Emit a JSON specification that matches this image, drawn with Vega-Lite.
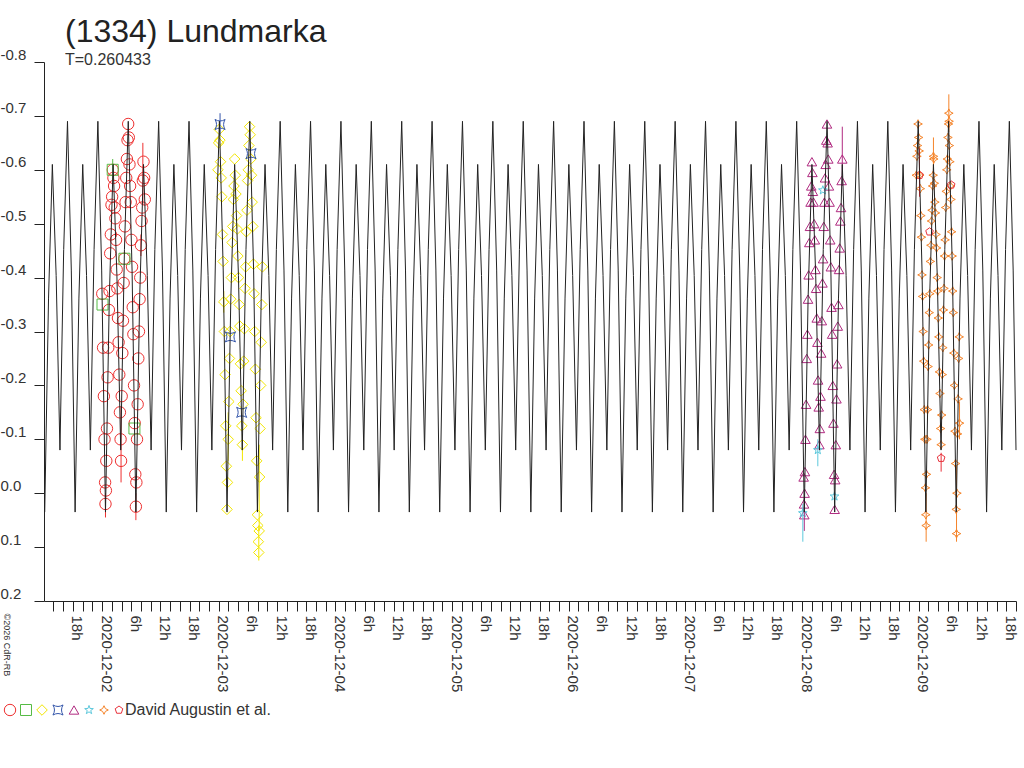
{
"$schema":"https://vega.github.io/schema/vega-lite/v6.json",
"width":972,"height":539,
"autosize":{"type":"none"},
"padding":{"left":44,"top":62,"right":8,"bottom":167},
"title":{"text":"(1334) Lundmarka","subtitle":"T=0.260433","anchor":"start","frame":"group","dx":21,"offset":-22,"fontSize":32,"font":"Liberation Sans","fontWeight":"normal","color":"#222","subtitleFont":"Liberation Sans","subtitleFontSize":16,"subtitleColor":"#333","subtitlePadding":3},
"config":{"view":{"stroke":null},"font":"Liberation Sans",
"legend":{"orient":"none","legendX":-42,"legendY":640,"direction":"horizontal","columns":8,"symbolSize":100,"symbolStrokeWidth":1,"labelFontSize":16,"labelFont":"Liberation Sans","labelColor":"#333","labelOffset":-2,"columnPadding":0,"padding":0}},
"datasets":{
"fit":[
{"t":"2020-12-01T12:12","m":0.035},{"t":"2020-12-01T12:59","m":-0.362},{"t":"2020-12-01T13:46","m":-0.61},{"t":"2020-12-01T14:33","m":-0.404},{"t":"2020-12-01T15:20","m":-0.08},{"t":"2020-12-01T16:06","m":-0.452},{"t":"2020-12-01T16:53","m":-0.69},{"t":"2020-12-01T17:40","m":-0.414},
{"t":"2020-12-01T18:27","m":0.035},{"t":"2020-12-01T19:14","m":-0.362},{"t":"2020-12-01T20:01","m":-0.61},{"t":"2020-12-01T20:48","m":-0.404},{"t":"2020-12-01T21:35","m":-0.08},{"t":"2020-12-01T22:21","m":-0.452},{"t":"2020-12-01T23:08","m":-0.69},{"t":"2020-12-01T23:55","m":-0.414},
{"t":"2020-12-02T00:42","m":0.035},{"t":"2020-12-02T01:29","m":-0.362},{"t":"2020-12-02T02:16","m":-0.61},{"t":"2020-12-02T03:03","m":-0.404},{"t":"2020-12-02T03:50","m":-0.08},{"t":"2020-12-02T04:36","m":-0.452},{"t":"2020-12-02T05:23","m":-0.69},{"t":"2020-12-02T06:10","m":-0.414},
{"t":"2020-12-02T06:57","m":0.035},{"t":"2020-12-02T07:44","m":-0.362},{"t":"2020-12-02T08:31","m":-0.61},{"t":"2020-12-02T09:18","m":-0.404},{"t":"2020-12-02T10:05","m":-0.08},{"t":"2020-12-02T10:51","m":-0.452},{"t":"2020-12-02T11:38","m":-0.69},{"t":"2020-12-02T12:25","m":-0.414},
{"t":"2020-12-02T13:12","m":0.035},{"t":"2020-12-02T13:59","m":-0.362},{"t":"2020-12-02T14:46","m":-0.61},{"t":"2020-12-02T15:33","m":-0.404},{"t":"2020-12-02T16:20","m":-0.08},{"t":"2020-12-02T17:06","m":-0.452},{"t":"2020-12-02T17:53","m":-0.69},{"t":"2020-12-02T18:40","m":-0.414},
{"t":"2020-12-02T19:27","m":0.035},{"t":"2020-12-02T20:14","m":-0.362},{"t":"2020-12-02T21:01","m":-0.61},{"t":"2020-12-02T21:48","m":-0.404},{"t":"2020-12-02T22:35","m":-0.08},{"t":"2020-12-02T23:21","m":-0.452},{"t":"2020-12-03T00:08","m":-0.69},{"t":"2020-12-03T00:55","m":-0.414},
{"t":"2020-12-03T01:42","m":0.035},{"t":"2020-12-03T02:29","m":-0.362},{"t":"2020-12-03T03:16","m":-0.61},{"t":"2020-12-03T04:03","m":-0.404},{"t":"2020-12-03T04:50","m":-0.08},{"t":"2020-12-03T05:36","m":-0.452},{"t":"2020-12-03T06:23","m":-0.69},{"t":"2020-12-03T07:10","m":-0.414},
{"t":"2020-12-03T07:57","m":0.035},{"t":"2020-12-03T08:44","m":-0.362},{"t":"2020-12-03T09:31","m":-0.61},{"t":"2020-12-03T10:18","m":-0.404},{"t":"2020-12-03T11:05","m":-0.08},{"t":"2020-12-03T11:51","m":-0.452},{"t":"2020-12-03T12:38","m":-0.69},{"t":"2020-12-03T13:25","m":-0.414},
{"t":"2020-12-03T14:12","m":0.035},{"t":"2020-12-03T14:59","m":-0.362},{"t":"2020-12-03T15:46","m":-0.61},{"t":"2020-12-03T16:33","m":-0.404},{"t":"2020-12-03T17:20","m":-0.08},{"t":"2020-12-03T18:06","m":-0.452},{"t":"2020-12-03T18:53","m":-0.69},{"t":"2020-12-03T19:40","m":-0.414},
{"t":"2020-12-03T20:27","m":0.035},{"t":"2020-12-03T21:14","m":-0.362},{"t":"2020-12-03T22:01","m":-0.61},{"t":"2020-12-03T22:48","m":-0.404},{"t":"2020-12-03T23:35","m":-0.08},{"t":"2020-12-04T00:21","m":-0.452},{"t":"2020-12-04T01:08","m":-0.69},{"t":"2020-12-04T01:55","m":-0.414},
{"t":"2020-12-04T02:42","m":0.035},{"t":"2020-12-04T03:29","m":-0.362},{"t":"2020-12-04T04:16","m":-0.61},{"t":"2020-12-04T05:03","m":-0.404},{"t":"2020-12-04T05:50","m":-0.08},{"t":"2020-12-04T06:36","m":-0.452},{"t":"2020-12-04T07:23","m":-0.69},{"t":"2020-12-04T08:10","m":-0.414},
{"t":"2020-12-04T08:57","m":0.035},{"t":"2020-12-04T09:44","m":-0.362},{"t":"2020-12-04T10:31","m":-0.61},{"t":"2020-12-04T11:18","m":-0.404},{"t":"2020-12-04T12:05","m":-0.08},{"t":"2020-12-04T12:51","m":-0.452},{"t":"2020-12-04T13:38","m":-0.69},{"t":"2020-12-04T14:25","m":-0.414},
{"t":"2020-12-04T15:12","m":0.035},{"t":"2020-12-04T15:59","m":-0.362},{"t":"2020-12-04T16:46","m":-0.61},{"t":"2020-12-04T17:33","m":-0.404},{"t":"2020-12-04T18:20","m":-0.08},{"t":"2020-12-04T19:06","m":-0.452},{"t":"2020-12-04T19:53","m":-0.69},{"t":"2020-12-04T20:40","m":-0.414},
{"t":"2020-12-04T21:27","m":0.035},{"t":"2020-12-04T22:14","m":-0.362},{"t":"2020-12-04T23:01","m":-0.61},{"t":"2020-12-04T23:48","m":-0.404},{"t":"2020-12-05T00:35","m":-0.08},{"t":"2020-12-05T01:21","m":-0.452},{"t":"2020-12-05T02:08","m":-0.69},{"t":"2020-12-05T02:55","m":-0.414},
{"t":"2020-12-05T03:42","m":0.035},{"t":"2020-12-05T04:29","m":-0.362},{"t":"2020-12-05T05:16","m":-0.61},{"t":"2020-12-05T06:03","m":-0.404},{"t":"2020-12-05T06:50","m":-0.08},{"t":"2020-12-05T07:36","m":-0.452},{"t":"2020-12-05T08:23","m":-0.69},{"t":"2020-12-05T09:10","m":-0.414},
{"t":"2020-12-05T09:57","m":0.035},{"t":"2020-12-05T10:44","m":-0.362},{"t":"2020-12-05T11:31","m":-0.61},{"t":"2020-12-05T12:18","m":-0.404},{"t":"2020-12-05T13:05","m":-0.08},{"t":"2020-12-05T13:51","m":-0.452},{"t":"2020-12-05T14:38","m":-0.69},{"t":"2020-12-05T15:25","m":-0.414},
{"t":"2020-12-05T16:12","m":0.035},{"t":"2020-12-05T16:59","m":-0.362},{"t":"2020-12-05T17:46","m":-0.61},{"t":"2020-12-05T18:33","m":-0.404},{"t":"2020-12-05T19:20","m":-0.08},{"t":"2020-12-05T20:06","m":-0.452},{"t":"2020-12-05T20:53","m":-0.69},{"t":"2020-12-05T21:40","m":-0.414},
{"t":"2020-12-05T22:27","m":0.035},{"t":"2020-12-05T23:14","m":-0.362},{"t":"2020-12-06T00:01","m":-0.61},{"t":"2020-12-06T00:48","m":-0.404},{"t":"2020-12-06T01:35","m":-0.08},{"t":"2020-12-06T02:21","m":-0.452},{"t":"2020-12-06T03:08","m":-0.69},{"t":"2020-12-06T03:55","m":-0.414},
{"t":"2020-12-06T04:42","m":0.035},{"t":"2020-12-06T05:29","m":-0.362},{"t":"2020-12-06T06:16","m":-0.61},{"t":"2020-12-06T07:03","m":-0.404},{"t":"2020-12-06T07:50","m":-0.08},{"t":"2020-12-06T08:36","m":-0.452},{"t":"2020-12-06T09:23","m":-0.69},{"t":"2020-12-06T10:10","m":-0.414},
{"t":"2020-12-06T10:57","m":0.035},{"t":"2020-12-06T11:44","m":-0.362},{"t":"2020-12-06T12:31","m":-0.61},{"t":"2020-12-06T13:18","m":-0.404},{"t":"2020-12-06T14:05","m":-0.08},{"t":"2020-12-06T14:51","m":-0.452},{"t":"2020-12-06T15:38","m":-0.69},{"t":"2020-12-06T16:25","m":-0.414},
{"t":"2020-12-06T17:12","m":0.035},{"t":"2020-12-06T17:59","m":-0.362},{"t":"2020-12-06T18:46","m":-0.61},{"t":"2020-12-06T19:33","m":-0.404},{"t":"2020-12-06T20:20","m":-0.08},{"t":"2020-12-06T21:06","m":-0.452},{"t":"2020-12-06T21:53","m":-0.69},{"t":"2020-12-06T22:40","m":-0.414},
{"t":"2020-12-06T23:27","m":0.035},{"t":"2020-12-07T00:14","m":-0.362},{"t":"2020-12-07T01:01","m":-0.61},{"t":"2020-12-07T01:48","m":-0.404},{"t":"2020-12-07T02:35","m":-0.08},{"t":"2020-12-07T03:21","m":-0.452},{"t":"2020-12-07T04:08","m":-0.69},{"t":"2020-12-07T04:55","m":-0.414},
{"t":"2020-12-07T05:42","m":0.035},{"t":"2020-12-07T06:29","m":-0.362},{"t":"2020-12-07T07:16","m":-0.61},{"t":"2020-12-07T08:03","m":-0.404},{"t":"2020-12-07T08:50","m":-0.08},{"t":"2020-12-07T09:36","m":-0.452},{"t":"2020-12-07T10:23","m":-0.69},{"t":"2020-12-07T11:10","m":-0.414},
{"t":"2020-12-07T11:57","m":0.035},{"t":"2020-12-07T12:44","m":-0.362},{"t":"2020-12-07T13:31","m":-0.61},{"t":"2020-12-07T14:18","m":-0.404},{"t":"2020-12-07T15:05","m":-0.08},{"t":"2020-12-07T15:51","m":-0.452},{"t":"2020-12-07T16:38","m":-0.69},{"t":"2020-12-07T17:25","m":-0.414},
{"t":"2020-12-07T18:12","m":0.035},{"t":"2020-12-07T18:59","m":-0.362},{"t":"2020-12-07T19:46","m":-0.61},{"t":"2020-12-07T20:33","m":-0.404},{"t":"2020-12-07T21:20","m":-0.08},{"t":"2020-12-07T22:06","m":-0.452},{"t":"2020-12-07T22:53","m":-0.69},{"t":"2020-12-07T23:40","m":-0.414},
{"t":"2020-12-08T00:27","m":0.035},{"t":"2020-12-08T01:14","m":-0.362},{"t":"2020-12-08T02:01","m":-0.61},{"t":"2020-12-08T02:48","m":-0.404},{"t":"2020-12-08T03:35","m":-0.08},{"t":"2020-12-08T04:21","m":-0.452},{"t":"2020-12-08T05:08","m":-0.69},{"t":"2020-12-08T05:55","m":-0.414},
{"t":"2020-12-08T06:42","m":0.035},{"t":"2020-12-08T07:29","m":-0.362},{"t":"2020-12-08T08:16","m":-0.61},{"t":"2020-12-08T09:03","m":-0.404},{"t":"2020-12-08T09:50","m":-0.08},{"t":"2020-12-08T10:36","m":-0.452},{"t":"2020-12-08T11:23","m":-0.69},{"t":"2020-12-08T12:10","m":-0.414},
{"t":"2020-12-08T12:57","m":0.035},{"t":"2020-12-08T13:44","m":-0.362},{"t":"2020-12-08T14:31","m":-0.61},{"t":"2020-12-08T15:18","m":-0.404},{"t":"2020-12-08T16:05","m":-0.08},{"t":"2020-12-08T16:51","m":-0.452},{"t":"2020-12-08T17:38","m":-0.69},{"t":"2020-12-08T18:25","m":-0.414},
{"t":"2020-12-08T19:12","m":0.035},{"t":"2020-12-08T19:59","m":-0.362},{"t":"2020-12-08T20:46","m":-0.61},{"t":"2020-12-08T21:33","m":-0.404},{"t":"2020-12-08T22:20","m":-0.08},{"t":"2020-12-08T23:06","m":-0.452},{"t":"2020-12-08T23:53","m":-0.69},{"t":"2020-12-09T00:40","m":-0.414},
{"t":"2020-12-09T01:27","m":0.035},{"t":"2020-12-09T02:14","m":-0.362},{"t":"2020-12-09T03:01","m":-0.61},{"t":"2020-12-09T03:48","m":-0.404},{"t":"2020-12-09T04:35","m":-0.08},{"t":"2020-12-09T05:21","m":-0.452},{"t":"2020-12-09T06:08","m":-0.69},{"t":"2020-12-09T06:55","m":-0.414},
{"t":"2020-12-09T07:42","m":0.035},{"t":"2020-12-09T08:29","m":-0.362},{"t":"2020-12-09T09:16","m":-0.61},{"t":"2020-12-09T10:03","m":-0.404},{"t":"2020-12-09T10:50","m":-0.08},{"t":"2020-12-09T11:36","m":-0.452},{"t":"2020-12-09T12:23","m":-0.69},{"t":"2020-12-09T13:10","m":-0.414},
{"t":"2020-12-09T13:57","m":0.035},{"t":"2020-12-09T14:44","m":-0.362},{"t":"2020-12-09T15:31","m":-0.61},{"t":"2020-12-09T16:18","m":-0.404},{"t":"2020-12-09T17:05","m":-0.08},{"t":"2020-12-09T17:51","m":-0.452},{"t":"2020-12-09T18:38","m":-0.69},{"t":"2020-12-09T19:25","m":-0.414},
{"t":"2020-12-09T20:00","m":-0.08}
],
"obs":[
{"t":"2020-12-02T00:02","m":-0.37,"s":"A"},{"t":"2020-12-02T00:12","m":-0.27,"s":"A"},{"t":"2020-12-02T00:22","m":-0.18,"s":"A"},{"t":"2020-12-02T00:30","m":-0.1,"s":"A"},{"t":"2020-12-02T00:37","m":-0.02,"s":"A"},{"t":"2020-12-02T00:42","m":0.02,"s":"A"},{"t":"2020-12-02T00:47","m":-0.005,"s":"A"},{"t":"2020-12-02T00:52","m":-0.06,"s":"A"},{"t":"2020-12-02T01:00","m":-0.12,"s":"A"},{"t":"2020-12-02T01:08","m":-0.215,"s":"A"},{"t":"2020-12-02T01:16","m":-0.27,"s":"A"},{"t":"2020-12-02T01:24","m":-0.34,"s":"A"},{"t":"2020-12-02T01:32","m":-0.375,"s":"A"},{"t":"2020-12-02T01:40","m":-0.445,"s":"A"},{"t":"2020-12-02T01:48","m":-0.48,"s":"A"},{"t":"2020-12-02T01:56","m":-0.535,"s":"A"},{"t":"2020-12-02T02:04","m":-0.55,"s":"A"},{"t":"2020-12-02T02:12","m":-0.6,"s":"A"},{"t":"2020-12-02T02:20","m":-0.585,"s":"A"},{"t":"2020-12-02T02:28","m":-0.57,"s":"A"},{"t":"2020-12-02T02:36","m":-0.53,"s":"A"},{"t":"2020-12-02T02:44","m":-0.51,"s":"A"},{"t":"2020-12-02T02:52","m":-0.47,"s":"A"},{"t":"2020-12-02T03:00","m":-0.415,"s":"A"},{"t":"2020-12-02T03:08","m":-0.38,"s":"A"},{"t":"2020-12-02T03:16","m":-0.325,"s":"A"},{"t":"2020-12-02T03:24","m":-0.28,"s":"A"},{"t":"2020-12-02T03:32","m":-0.22,"s":"A"},{"t":"2020-12-02T03:40","m":-0.15,"s":"A"},{"t":"2020-12-02T03:48","m":-0.1,"s":"A"},{"t":"2020-12-02T03:54","m":-0.06,"s":"A"},{"t":"2020-12-02T04:02","m":-0.18,"s":"A"},{"t":"2020-12-02T04:10","m":-0.26,"s":"A"},{"t":"2020-12-02T04:18","m":-0.32,"s":"A"},{"t":"2020-12-02T04:26","m":-0.39,"s":"A"},{"t":"2020-12-02T04:34","m":-0.435,"s":"A"},{"t":"2020-12-02T04:42","m":-0.495,"s":"A"},{"t":"2020-12-02T04:50","m":-0.54,"s":"A"},{"t":"2020-12-02T04:58","m":-0.585,"s":"A"},{"t":"2020-12-02T05:06","m":-0.62,"s":"A"},{"t":"2020-12-02T05:14","m":-0.655,"s":"A"},{"t":"2020-12-02T05:22","m":-0.685,"s":"A"},{"t":"2020-12-02T05:30","m":-0.66,"s":"A"},{"t":"2020-12-02T05:38","m":-0.61,"s":"A"},{"t":"2020-12-02T05:46","m":-0.57,"s":"A"},{"t":"2020-12-02T05:54","m":-0.54,"s":"A"},{"t":"2020-12-02T06:02","m":-0.47,"s":"A"},{"t":"2020-12-02T06:10","m":-0.42,"s":"A"},{"t":"2020-12-02T06:18","m":-0.345,"s":"A"},{"t":"2020-12-02T06:26","m":-0.295,"s":"A"},{"t":"2020-12-02T06:34","m":-0.2,"s":"A"},{"t":"2020-12-02T06:42","m":-0.13,"s":"A"},{"t":"2020-12-02T06:50","m":-0.035,"s":"A"},{"t":"2020-12-02T06:57","m":0.025,"s":"A"},{"t":"2020-12-02T07:03","m":-0.02,"s":"A"},{"t":"2020-12-02T07:11","m":-0.1,"s":"A"},{"t":"2020-12-02T07:19","m":-0.165,"s":"A"},{"t":"2020-12-02T07:27","m":-0.25,"s":"A"},{"t":"2020-12-02T07:35","m":-0.3,"s":"A"},{"t":"2020-12-02T07:43","m":-0.36,"s":"A"},{"t":"2020-12-02T07:51","m":-0.4,"s":"A"},{"t":"2020-12-02T07:59","m":-0.46,"s":"A"},{"t":"2020-12-02T08:07","m":-0.505,"s":"A"},{"t":"2020-12-02T08:15","m":-0.53,"s":"A"},{"t":"2020-12-02T08:23","m":-0.58,"s":"A"},{"t":"2020-12-02T08:31","m":-0.615,"s":"A"},{"t":"2020-12-02T08:39","m":-0.585,"s":"A"},{"t":"2020-12-02T08:47","m":-0.545,"s":"A"},
{"t":"2020-12-02T00:05","m":-0.35,"s":"B"},{"t":"2020-12-02T02:11","m":-0.6,"s":"B"},{"t":"2020-12-02T04:36","m":-0.435,"s":"B"},{"t":"2020-12-02T06:39","m":-0.12,"s":"B"},
{"t":"2020-12-02T23:50","m":-0.6,"s":"C"},{"t":"2020-12-02T23:58","m":-0.65,"s":"C"},{"t":"2020-12-03T00:06","m":-0.675,"s":"C"},{"t":"2020-12-03T00:14","m":-0.655,"s":"C"},{"t":"2020-12-03T00:22","m":-0.615,"s":"C"},{"t":"2020-12-03T00:30","m":-0.585,"s":"C"},{"t":"2020-12-03T00:38","m":-0.55,"s":"C"},{"t":"2020-12-03T00:46","m":-0.48,"s":"C"},{"t":"2020-12-03T00:54","m":-0.43,"s":"C"},{"t":"2020-12-03T01:02","m":-0.355,"s":"C"},{"t":"2020-12-03T01:10","m":-0.3,"s":"C"},{"t":"2020-12-03T01:18","m":-0.22,"s":"C"},{"t":"2020-12-03T01:26","m":-0.125,"s":"C"},{"t":"2020-12-03T01:34","m":-0.05,"s":"C"},{"t":"2020-12-03T01:42","m":0.03,"s":"C"},{"t":"2020-12-03T01:48","m":-0.02,"s":"C"},{"t":"2020-12-03T01:56","m":-0.1,"s":"C"},{"t":"2020-12-03T02:04","m":-0.17,"s":"C"},{"t":"2020-12-03T02:12","m":-0.25,"s":"C"},{"t":"2020-12-03T02:20","m":-0.3,"s":"C"},{"t":"2020-12-03T02:28","m":-0.36,"s":"C"},{"t":"2020-12-03T02:36","m":-0.4,"s":"C"},{"t":"2020-12-03T02:44","m":-0.465,"s":"C"},{"t":"2020-12-03T02:52","m":-0.495,"s":"C"},{"t":"2020-12-03T03:00","m":-0.545,"s":"C"},{"t":"2020-12-03T03:08","m":-0.57,"s":"C"},{"t":"2020-12-03T03:16","m":-0.62,"s":"C"},{"t":"2020-12-03T03:24","m":-0.59,"s":"C"},{"t":"2020-12-03T03:32","m":-0.555,"s":"C"},{"t":"2020-12-03T03:40","m":-0.515,"s":"C"},{"t":"2020-12-03T03:48","m":-0.49,"s":"C"},{"t":"2020-12-03T03:56","m":-0.44,"s":"C"},{"t":"2020-12-03T04:04","m":-0.4,"s":"C"},{"t":"2020-12-03T04:12","m":-0.35,"s":"C"},{"t":"2020-12-03T04:20","m":-0.31,"s":"C"},{"t":"2020-12-03T04:28","m":-0.24,"s":"C"},{"t":"2020-12-03T04:36","m":-0.19,"s":"C"},{"t":"2020-12-03T04:44","m":-0.125,"s":"C"},{"t":"2020-12-03T04:52","m":-0.09,"s":"C"},{"t":"2020-12-03T05:00","m":-0.165,"s":"C"},{"t":"2020-12-03T05:08","m":-0.245,"s":"C"},{"t":"2020-12-03T05:16","m":-0.305,"s":"C"},{"t":"2020-12-03T05:24","m":-0.38,"s":"C"},{"t":"2020-12-03T05:32","m":-0.42,"s":"C"},{"t":"2020-12-03T05:40","m":-0.485,"s":"C"},{"t":"2020-12-03T05:48","m":-0.525,"s":"C"},{"t":"2020-12-03T05:56","m":-0.58,"s":"C"},{"t":"2020-12-03T06:04","m":-0.6,"s":"C"},{"t":"2020-12-03T06:12","m":-0.645,"s":"C"},{"t":"2020-12-03T06:20","m":-0.68,"s":"C"},{"t":"2020-12-03T06:28","m":-0.665,"s":"C"},{"t":"2020-12-03T06:36","m":-0.62,"s":"C"},{"t":"2020-12-03T06:44","m":-0.59,"s":"C"},{"t":"2020-12-03T06:52","m":-0.54,"s":"C"},{"t":"2020-12-03T07:00","m":-0.495,"s":"C"},{"t":"2020-12-03T07:08","m":-0.425,"s":"C"},{"t":"2020-12-03T07:16","m":-0.37,"s":"C"},{"t":"2020-12-03T07:24","m":-0.3,"s":"C"},{"t":"2020-12-03T07:32","m":-0.23,"s":"C"},{"t":"2020-12-03T07:40","m":-0.14,"s":"C"},{"t":"2020-12-03T07:48","m":-0.06,"s":"C"},{"t":"2020-12-03T07:57","m":0.04,"s":"C"},{"t":"2020-12-03T08:02","m":0.06,"s":"C"},{"t":"2020-12-03T08:08","m":0.09,"s":"C"},{"t":"2020-12-03T08:14","m":0.11,"s":"C"},{"t":"2020-12-03T08:19","m":0.07,"s":"C"},{"t":"2020-12-03T08:24","m":-0.03,"s":"C"},{"t":"2020-12-03T08:30","m":-0.12,"s":"C"},{"t":"2020-12-03T08:37","m":-0.2,"s":"C"},{"t":"2020-12-03T08:44","m":-0.28,"s":"C"},{"t":"2020-12-03T08:51","m":-0.35,"s":"C"},{"t":"2020-12-03T08:59","m":-0.42,"s":"C"},
{"t":"2020-12-03T00:16","m":-0.684,"s":"D"},{"t":"2020-12-03T02:24","m":-0.29,"s":"D"},{"t":"2020-12-03T04:43","m":-0.15,"s":"D"},{"t":"2020-12-03T06:38","m":-0.63,"s":"D"},
{"t":"2020-12-08T00:19","m":-0.03,"s":"E"},{"t":"2020-12-08T00:24","m":0.02,"s":"E"},{"t":"2020-12-08T00:27","m":0.04,"s":"E"},{"t":"2020-12-08T00:31","m":0.0,"s":"E"},{"t":"2020-12-08T00:35","m":-0.04,"s":"E"},{"t":"2020-12-08T00:41","m":-0.1,"s":"E"},{"t":"2020-12-08T00:49","m":-0.165,"s":"E"},{"t":"2020-12-08T00:57","m":-0.25,"s":"E"},{"t":"2020-12-08T01:05","m":-0.295,"s":"E"},{"t":"2020-12-08T01:13","m":-0.36,"s":"E"},{"t":"2020-12-08T01:21","m":-0.405,"s":"E"},{"t":"2020-12-08T01:29","m":-0.465,"s":"E"},{"t":"2020-12-08T01:37","m":-0.495,"s":"E"},{"t":"2020-12-08T01:45","m":-0.54,"s":"E"},{"t":"2020-12-08T01:53","m":-0.57,"s":"E"},{"t":"2020-12-08T02:01","m":-0.615,"s":"E"},{"t":"2020-12-08T02:07","m":-0.595,"s":"E"},{"t":"2020-12-08T02:13","m":-0.56,"s":"E"},{"t":"2020-12-08T02:21","m":-0.54,"s":"E"},{"t":"2020-12-08T02:29","m":-0.5,"s":"E"},{"t":"2020-12-08T02:37","m":-0.47,"s":"E"},{"t":"2020-12-08T02:45","m":-0.415,"s":"E"},{"t":"2020-12-08T02:53","m":-0.38,"s":"E"},{"t":"2020-12-08T03:01","m":-0.325,"s":"E"},{"t":"2020-12-08T03:09","m":-0.28,"s":"E"},{"t":"2020-12-08T03:17","m":-0.21,"s":"E"},{"t":"2020-12-08T03:25","m":-0.16,"s":"E"},{"t":"2020-12-08T03:33","m":-0.09,"s":"E"},{"t":"2020-12-08T03:39","m":-0.12,"s":"E"},{"t":"2020-12-08T03:47","m":-0.18,"s":"E"},{"t":"2020-12-08T03:55","m":-0.26,"s":"E"},{"t":"2020-12-08T04:03","m":-0.32,"s":"E"},{"t":"2020-12-08T04:11","m":-0.39,"s":"E"},{"t":"2020-12-08T04:19","m":-0.435,"s":"E"},{"t":"2020-12-08T04:27","m":-0.495,"s":"E"},{"t":"2020-12-08T04:35","m":-0.54,"s":"E"},{"t":"2020-12-08T04:43","m":-0.585,"s":"E"},{"t":"2020-12-08T04:51","m":-0.61,"s":"E"},{"t":"2020-12-08T04:59","m":-0.655,"s":"E"},{"t":"2020-12-08T05:07","m":-0.685,"s":"E"},{"t":"2020-12-08T05:15","m":-0.65,"s":"E"},{"t":"2020-12-08T05:23","m":-0.62,"s":"E"},{"t":"2020-12-08T05:31","m":-0.57,"s":"E"},{"t":"2020-12-08T05:39","m":-0.54,"s":"E"},{"t":"2020-12-08T05:47","m":-0.47,"s":"E"},{"t":"2020-12-08T05:55","m":-0.42,"s":"E"},{"t":"2020-12-08T06:03","m":-0.345,"s":"E"},{"t":"2020-12-08T06:11","m":-0.295,"s":"E"},{"t":"2020-12-08T06:19","m":-0.2,"s":"E"},{"t":"2020-12-08T06:27","m":-0.13,"s":"E"},{"t":"2020-12-08T06:35","m":-0.035,"s":"E"},{"t":"2020-12-08T06:42","m":0.03,"s":"E"},{"t":"2020-12-08T06:48","m":-0.025,"s":"E"},{"t":"2020-12-08T06:56","m":-0.09,"s":"E"},{"t":"2020-12-08T07:04","m":-0.175,"s":"E"},{"t":"2020-12-08T07:12","m":-0.24,"s":"E"},{"t":"2020-12-08T07:20","m":-0.31,"s":"E"},{"t":"2020-12-08T07:28","m":-0.35,"s":"E"},{"t":"2020-12-08T07:36","m":-0.415,"s":"E"},{"t":"2020-12-08T07:44","m":-0.455,"s":"E"},{"t":"2020-12-08T07:52","m":-0.505,"s":"E"},{"t":"2020-12-08T08:00","m":-0.53,"s":"E"},{"t":"2020-12-08T08:08","m":-0.58,"s":"E"},{"t":"2020-12-08T08:16","m":-0.62,"s":"E"},
{"t":"2020-12-08T00:09","m":0.037,"s":"F"},{"t":"2020-12-08T03:14","m":-0.08,"s":"F"},{"t":"2020-12-08T04:16","m":-0.562,"s":"F"},{"t":"2020-12-08T06:40","m":0.006,"s":"F"},
{"t":"2020-12-08T23:30","m":-0.59,"s":"G"},{"t":"2020-12-08T23:37","m":-0.625,"s":"G"},{"t":"2020-12-08T23:44","m":-0.645,"s":"G"},{"t":"2020-12-08T23:51","m":-0.685,"s":"G"},{"t":"2020-12-08T23:58","m":-0.66,"s":"G"},{"t":"2020-12-09T00:05","m":-0.635,"s":"G"},{"t":"2020-12-09T00:12","m":-0.59,"s":"G"},{"t":"2020-12-09T00:19","m":-0.565,"s":"G"},{"t":"2020-12-09T00:26","m":-0.515,"s":"G"},{"t":"2020-12-09T00:33","m":-0.475,"s":"G"},{"t":"2020-12-09T00:40","m":-0.405,"s":"G"},{"t":"2020-12-09T00:47","m":-0.365,"s":"G"},{"t":"2020-12-09T00:54","m":-0.3,"s":"G"},{"t":"2020-12-09T01:01","m":-0.245,"s":"G"},{"t":"2020-12-09T01:08","m":-0.155,"s":"G"},{"t":"2020-12-09T01:15","m":-0.1,"s":"G"},{"t":"2020-12-09T01:22","m":-0.01,"s":"G"},{"t":"2020-12-09T01:27","m":0.04,"s":"G"},{"t":"2020-12-09T01:31","m":0.06,"s":"G"},{"t":"2020-12-09T01:35","m":-0.035,"s":"G"},{"t":"2020-12-09T01:41","m":-0.1,"s":"G"},{"t":"2020-12-09T01:48","m":-0.155,"s":"G"},{"t":"2020-12-09T01:55","m":-0.235,"s":"G"},{"t":"2020-12-09T02:02","m":-0.275,"s":"G"},{"t":"2020-12-09T02:09","m":-0.335,"s":"G"},{"t":"2020-12-09T02:16","m":-0.37,"s":"G"},{"t":"2020-12-09T02:23","m":-0.43,"s":"G"},{"t":"2020-12-09T02:30","m":-0.46,"s":"G"},{"t":"2020-12-09T02:37","m":-0.505,"s":"G"},{"t":"2020-12-09T02:44","m":-0.525,"s":"G"},{"t":"2020-12-09T02:51","m":-0.57,"s":"G"},{"t":"2020-12-09T02:58","m":-0.59,"s":"G"},{"t":"2020-12-09T03:01","m":-0.625,"s":"G"},{"t":"2020-12-09T03:05","m":-0.62,"s":"G"},{"t":"2020-12-09T03:12","m":-0.575,"s":"G"},{"t":"2020-12-09T03:19","m":-0.54,"s":"G"},{"t":"2020-12-09T03:26","m":-0.52,"s":"G"},{"t":"2020-12-09T03:33","m":-0.48,"s":"G"},{"t":"2020-12-09T03:40","m":-0.455,"s":"G"},{"t":"2020-12-09T03:47","m":-0.4,"s":"G"},{"t":"2020-12-09T03:54","m":-0.375,"s":"G"},{"t":"2020-12-09T04:01","m":-0.325,"s":"G"},{"t":"2020-12-09T04:08","m":-0.29,"s":"G"},{"t":"2020-12-09T04:15","m":-0.225,"s":"G"},{"t":"2020-12-09T04:22","m":-0.185,"s":"G"},{"t":"2020-12-09T04:29","m":-0.12,"s":"G"},{"t":"2020-12-09T04:36","m":-0.09,"s":"G"},{"t":"2020-12-09T04:43","m":-0.145,"s":"G"},{"t":"2020-12-09T04:50","m":-0.22,"s":"G"},{"t":"2020-12-09T04:57","m":-0.27,"s":"G"},{"t":"2020-12-09T05:04","m":-0.34,"s":"G"},{"t":"2020-12-09T05:11","m":-0.38,"s":"G"},{"t":"2020-12-09T05:18","m":-0.44,"s":"G"},{"t":"2020-12-09T05:25","m":-0.47,"s":"G"},{"t":"2020-12-09T05:32","m":-0.53,"s":"G"},{"t":"2020-12-09T05:39","m":-0.56,"s":"G"},{"t":"2020-12-09T05:46","m":-0.6,"s":"G"},{"t":"2020-12-09T05:53","m":-0.62,"s":"G"},{"t":"2020-12-09T06:00","m":-0.66,"s":"G"},{"t":"2020-12-09T06:07","m":-0.685,"s":"G"},{"t":"2020-12-09T06:11","m":-0.705,"s":"G"},{"t":"2020-12-09T06:14","m":-0.69,"s":"G"},{"t":"2020-12-09T06:17","m":-0.645,"s":"G"},{"t":"2020-12-09T06:24","m":-0.615,"s":"G"},{"t":"2020-12-09T06:31","m":-0.57,"s":"G"},{"t":"2020-12-09T06:38","m":-0.545,"s":"G"},{"t":"2020-12-09T06:45","m":-0.485,"s":"G"},{"t":"2020-12-09T06:52","m":-0.44,"s":"G"},{"t":"2020-12-09T06:59","m":-0.375,"s":"G"},{"t":"2020-12-09T07:06","m":-0.335,"s":"G"},{"t":"2020-12-09T07:13","m":-0.26,"s":"G"},{"t":"2020-12-09T07:20","m":-0.2,"s":"G"},{"t":"2020-12-09T07:27","m":-0.115,"s":"G"},{"t":"2020-12-09T07:34","m":-0.055,"s":"G"},{"t":"2020-12-09T07:42","m":0.03,"s":"G"},{"t":"2020-12-09T07:46","m":0.075,"s":"G"},{"t":"2020-12-09T07:51","m":0.0,"s":"G"},{"t":"2020-12-09T07:58","m":-0.11,"s":"G"},{"t":"2020-12-09T08:05","m":-0.175,"s":"G"},{"t":"2020-12-09T08:12","m":-0.25,"s":"G"},{"t":"2020-12-09T08:19","m":-0.29,"s":"G"},{"t":"2020-12-09T08:23","m":-0.13,"s":"G"},
{"t":"2020-12-09T00:09","m":-0.59,"s":"H"},{"t":"2020-12-09T02:13","m":-0.485,"s":"H"},{"t":"2020-12-09T04:36","m":-0.065,"s":"H"},{"t":"2020-12-09T06:40","m":-0.572,"s":"H"}
],
"err":[
{"t":"2020-12-02T08:23","lo":-0.65,"hi":-0.535,"s":"A"},{"t":"2020-12-02T03:54","lo":-0.16,"hi":-0.02,"s":"A"},{"t":"2020-12-02T00:42","lo":0.0,"hi":0.045,"s":"A"},{"t":"2020-12-02T06:57","lo":0.0,"hi":0.05,"s":"A"},{"t":"2020-12-02T07:59","lo":-0.48,"hi":-0.44,"s":"A"},
{"t":"2020-12-02T02:11","lo":-0.62,"hi":-0.58,"s":"B"},
{"t":"2020-12-03T08:14","lo":0.06,"hi":0.125,"s":"C"},{"t":"2020-12-03T08:19","lo":-0.09,"hi":0.07,"s":"C"},{"t":"2020-12-03T01:02","lo":-0.375,"hi":-0.335,"s":"C"},{"t":"2020-12-03T01:56","lo":-0.15,"hi":-0.06,"s":"C"},{"t":"2020-12-03T04:52","lo":-0.11,"hi":-0.06,"s":"C"},
{"t":"2020-12-03T00:16","lo":-0.705,"hi":-0.665,"s":"D"},
{"t":"2020-12-08T08:16","lo":-0.68,"hi":-0.57,"s":"E"},{"t":"2020-12-08T00:27","lo":0.01,"hi":0.07,"s":"E"},
{"t":"2020-12-08T00:09","lo":0.02,"hi":0.09,"s":"F"},{"t":"2020-12-08T03:14","lo":-0.1,"hi":-0.05,"s":"F"},
{"t":"2020-12-09T07:46","lo":-0.05,"hi":0.09,"s":"G"},{"t":"2020-12-09T01:31","lo":0.0,"hi":0.09,"s":"G"},{"t":"2020-12-09T06:11","lo":-0.74,"hi":-0.67,"s":"G"},{"t":"2020-12-09T03:01","lo":-0.66,"hi":-0.6,"s":"G"},{"t":"2020-12-09T08:23","lo":-0.17,"hi":-0.1,"s":"G"},
{"t":"2020-12-09T04:36","lo":-0.075,"hi":-0.04,"s":"H"},{"t":"2020-12-09T00:09","lo":-0.64,"hi":-0.55,"s":"H"}
]
},
"layer":[
{"data":{"name":"obs"},"mark":{"type":"point","filled":false,"strokeWidth":1,"opacity":1},
"encoding":{
"x":{"field":"t","type":"temporal","scale":{"domain":[{"year":2020,"month":12,"date":1,"hours":12,"minutes":3},{"year":2020,"month":12,"date":9,"hours":20,"minutes":0}]},
"axis":{"title":null,"grid":false,"tickCount":200,"values":[
{"year":2020,"month":12,"date":1,"hours":14},{"year":2020,"month":12,"date":1,"hours":16},{"year":2020,"month":12,"date":1,"hours":18},{"year":2020,"month":12,"date":1,"hours":20},{"year":2020,"month":12,"date":1,"hours":22},
{"year":2020,"month":12,"date":2,"hours":0},{"year":2020,"month":12,"date":2,"hours":2},{"year":2020,"month":12,"date":2,"hours":4},{"year":2020,"month":12,"date":2,"hours":6},{"year":2020,"month":12,"date":2,"hours":8},{"year":2020,"month":12,"date":2,"hours":10},{"year":2020,"month":12,"date":2,"hours":12},{"year":2020,"month":12,"date":2,"hours":14},{"year":2020,"month":12,"date":2,"hours":16},{"year":2020,"month":12,"date":2,"hours":18},{"year":2020,"month":12,"date":2,"hours":20},{"year":2020,"month":12,"date":2,"hours":22},
{"year":2020,"month":12,"date":3,"hours":0},{"year":2020,"month":12,"date":3,"hours":2},{"year":2020,"month":12,"date":3,"hours":4},{"year":2020,"month":12,"date":3,"hours":6},{"year":2020,"month":12,"date":3,"hours":8},{"year":2020,"month":12,"date":3,"hours":10},{"year":2020,"month":12,"date":3,"hours":12},{"year":2020,"month":12,"date":3,"hours":14},{"year":2020,"month":12,"date":3,"hours":16},{"year":2020,"month":12,"date":3,"hours":18},{"year":2020,"month":12,"date":3,"hours":20},{"year":2020,"month":12,"date":3,"hours":22},
{"year":2020,"month":12,"date":4,"hours":0},{"year":2020,"month":12,"date":4,"hours":2},{"year":2020,"month":12,"date":4,"hours":4},{"year":2020,"month":12,"date":4,"hours":6},{"year":2020,"month":12,"date":4,"hours":8},{"year":2020,"month":12,"date":4,"hours":10},{"year":2020,"month":12,"date":4,"hours":12},{"year":2020,"month":12,"date":4,"hours":14},{"year":2020,"month":12,"date":4,"hours":16},{"year":2020,"month":12,"date":4,"hours":18},{"year":2020,"month":12,"date":4,"hours":20},{"year":2020,"month":12,"date":4,"hours":22},
{"year":2020,"month":12,"date":5,"hours":0},{"year":2020,"month":12,"date":5,"hours":2},{"year":2020,"month":12,"date":5,"hours":4},{"year":2020,"month":12,"date":5,"hours":6},{"year":2020,"month":12,"date":5,"hours":8},{"year":2020,"month":12,"date":5,"hours":10},{"year":2020,"month":12,"date":5,"hours":12},{"year":2020,"month":12,"date":5,"hours":14},{"year":2020,"month":12,"date":5,"hours":16},{"year":2020,"month":12,"date":5,"hours":18},{"year":2020,"month":12,"date":5,"hours":20},{"year":2020,"month":12,"date":5,"hours":22},
{"year":2020,"month":12,"date":6,"hours":0},{"year":2020,"month":12,"date":6,"hours":2},{"year":2020,"month":12,"date":6,"hours":4},{"year":2020,"month":12,"date":6,"hours":6},{"year":2020,"month":12,"date":6,"hours":8},{"year":2020,"month":12,"date":6,"hours":10},{"year":2020,"month":12,"date":6,"hours":12},{"year":2020,"month":12,"date":6,"hours":14},{"year":2020,"month":12,"date":6,"hours":16},{"year":2020,"month":12,"date":6,"hours":18},{"year":2020,"month":12,"date":6,"hours":20},{"year":2020,"month":12,"date":6,"hours":22},
{"year":2020,"month":12,"date":7,"hours":0},{"year":2020,"month":12,"date":7,"hours":2},{"year":2020,"month":12,"date":7,"hours":4},{"year":2020,"month":12,"date":7,"hours":6},{"year":2020,"month":12,"date":7,"hours":8},{"year":2020,"month":12,"date":7,"hours":10},{"year":2020,"month":12,"date":7,"hours":12},{"year":2020,"month":12,"date":7,"hours":14},{"year":2020,"month":12,"date":7,"hours":16},{"year":2020,"month":12,"date":7,"hours":18},{"year":2020,"month":12,"date":7,"hours":20},{"year":2020,"month":12,"date":7,"hours":22},
{"year":2020,"month":12,"date":8,"hours":0},{"year":2020,"month":12,"date":8,"hours":2},{"year":2020,"month":12,"date":8,"hours":4},{"year":2020,"month":12,"date":8,"hours":6},{"year":2020,"month":12,"date":8,"hours":8},{"year":2020,"month":12,"date":8,"hours":10},{"year":2020,"month":12,"date":8,"hours":12},{"year":2020,"month":12,"date":8,"hours":14},{"year":2020,"month":12,"date":8,"hours":16},{"year":2020,"month":12,"date":8,"hours":18},{"year":2020,"month":12,"date":8,"hours":20},{"year":2020,"month":12,"date":8,"hours":22},
{"year":2020,"month":12,"date":9,"hours":0},{"year":2020,"month":12,"date":9,"hours":2},{"year":2020,"month":12,"date":9,"hours":4},{"year":2020,"month":12,"date":9,"hours":6},{"year":2020,"month":12,"date":9,"hours":8},{"year":2020,"month":12,"date":9,"hours":10},{"year":2020,"month":12,"date":9,"hours":12},{"year":2020,"month":12,"date":9,"hours":14},{"year":2020,"month":12,"date":9,"hours":16},{"year":2020,"month":12,"date":9,"hours":18},{"year":2020,"month":12,"date":9,"hours":20}],
"labelExpr":"hours(datum.value)==0 ? timeFormat(datum.value,'%Y-%m-%d') : (hours(datum.value)%6==0 ? hours(datum.value)+'h' : '')","labelAngle":90,"labelAlign":"left","labelBaseline":"bottom","labelOffset":-4,"labelOverlap":false,"labelFlush":false,"tickSize":10,"labelPadding":4,"labelFont":"Liberation Sans","labelFontSize":15,"labelColor":"#333","domainColor":"#222","tickColor":"#222"}},
"y":{"field":"m","type":"quantitative","scale":{"domain":[-0.8,0.2],"reverse":true,"zero":false,"nice":false},
"axis":{"values":[-0.8,-0.7,-0.6,-0.5,-0.4,-0.3,-0.2,-0.1,0,0.1,0.2],"labelExpr":"(datum.value < -0.001 ? '-' : '') + format(abs(datum.value), '.1f')","grid":false,"tickSize":10,"labelAlign":"left","labelPadding":34,"labelBaseline":"bottom","labelFont":"Liberation Sans","labelFontSize":15,"labelColor":"#333","domainColor":"#222","tickColor":"#222","title":"©2026 CdR-RB","titleAngle":90,"titleFontSize":9,"titleFont":"Liberation Sans","titleFontWeight":"normal","titleColor":"#333","titleX":-43,"titleY":551,"titleAlign":"left","titleBaseline":"bottom"}},
"color":{"field":"s","type":"nominal","scale":{"domain":["A","B","C","D","E","F","G","H"],"range":["#ee3030","#55bb44","#f2e600","#3355aa","#b02a80","#5cc8dc","#f5842a","#e8303a"]},"legend":{"title":null,"labelExpr":"datum.label=='H' ? 'David Augustin et al.' : ''"}},
"shape":{"field":"s","type":"nominal","scale":{"domain":["A","B","C","D","E","F","G","H"],"range":["circle","square","diamond","M-1,-1Q0,-0.4 1,-1Q0.4,0 1,1Q0,0.4 -1,1Q-0.4,0 -1,-1Z","triangle-up","M0,-1L0.235,-0.324L0.951,-0.309L0.38,0.124L0.588,0.809L0,0.4L-0.588,0.809L-0.38,0.124L-0.951,-0.309L-0.235,-0.324Z","M0,-1Q0.15,-0.15 1,0Q0.15,0.15 0,1Q-0.15,0.15 -1,0Q-0.15,-0.15 0,-1Z","M0,-1L0.951,-0.309L0.588,0.809L-0.588,0.809L-0.951,-0.309Z"]},"legend":{"title":null,"labelExpr":"datum.label=='H' ? 'David Augustin et al.' : ''"}},
"size":{"field":"s","type":"nominal","scale":{"domain":["A","B","C","D","E","F","G","H"],"range":[130,64,100,64,85,100,130,81]},"legend":null}}},
{"data":{"name":"err"},"mark":{"type":"rule","strokeWidth":1},
"encoding":{"x":{"field":"t","type":"temporal"},"y":{"field":"lo","type":"quantitative"},"y2":{"field":"hi"},
"color":{"field":"s","type":"nominal","legend":null}}},
{"data":{"name":"fit"},"mark":{"type":"line","color":"#222","strokeWidth":1},
"encoding":{"x":{"field":"t","type":"temporal"},"y":{"field":"m","type":"quantitative"}}}
]
}
